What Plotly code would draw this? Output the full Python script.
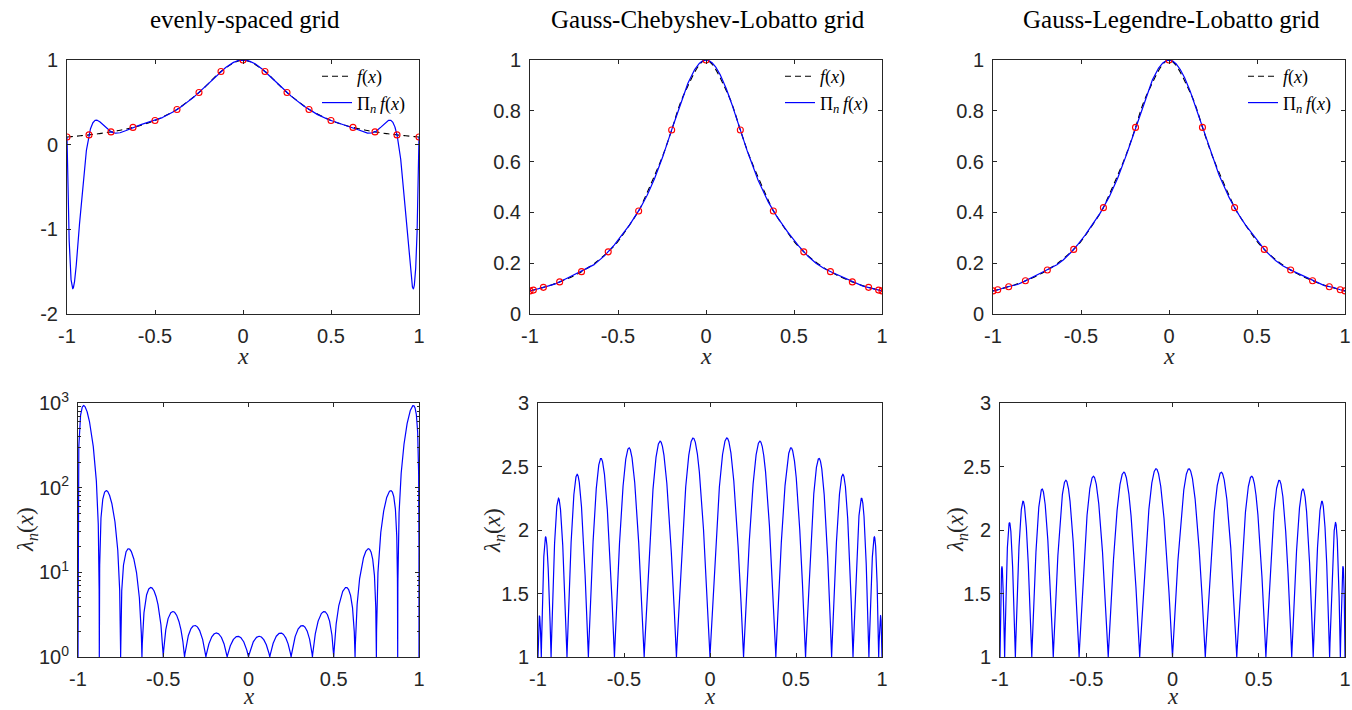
import numpy as np
import plotly.graph_objects as go

# ---------------- data ----------------
TITLES = ["evenly-spaced grid", "Gauss-Chebyshev-Lobatto grid", "Gauss-Legendre-Lobatto grid"]

# interpolation nodes and the sampled values f(x_j) (red circles)
X_EVEN = [-1.0, -0.875, -0.75, -0.625, -0.5, -0.375, -0.25, -0.125, 0.0,
          0.125, 0.25, 0.375, 0.5, 0.625, 0.75, 0.875, 1.0]
F_EVEN = [0.090909, 0.115523, 0.150943, 0.203822, 0.285714, 0.415584, 0.615385, 0.864865, 1.0,
          0.864865, 0.615385, 0.415584, 0.285714, 0.203822, 0.150943, 0.115523, 0.090909]

X_CHEB = [-1.0, -0.980785, -0.92388, -0.83147, -0.707107, -0.55557, -0.382683, -0.19509, 0.0,
          0.19509, 0.382683, 0.55557, 0.707107, 0.83147, 0.92388, 0.980785, 1.0]
F_CHEB = [0.090909, 0.094167, 0.104871, 0.126368, 0.166667, 0.244703, 0.405767, 0.724322, 1.0,
          0.724322, 0.405767, 0.244703, 0.166667, 0.126368, 0.104871, 0.094167, 0.090909]

X_GLL = [-1.0, -0.97313, -0.91088, -0.8157, -0.6912, -0.5414, -0.3726, -0.1901, 0.0,
         0.1901, 0.3726, 0.5414, 0.6912, 0.8157, 0.91088, 0.97313, 1.0]
F_GLL = [0.090909, 0.095512, 0.107561, 0.130656, 0.173083, 0.254379, 0.418705, 0.734551, 1.0,
         0.734551, 0.418705, 0.254379, 0.173083, 0.130656, 0.107561, 0.095512, 0.090909]

X_TICKS = [-1, -0.5, 0, 0.5, 1]
X_TICKTEXT = ["-1", "-0.5", "0", "0.5", "1"]
TOP_YTICKS = [[-2, -1, 0, 1], [0, 0.2, 0.4, 0.6, 0.8, 1], [0, 0.2, 0.4, 0.6, 0.8, 1]]
TOP_YTICKTEXT = [["-2", "-1", "0", "1"], ["0", "0.2", "0.4", "0.6", "0.8", "1"],
                 ["0", "0.2", "0.4", "0.6", "0.8", "1"]]
TOP_YRANGE = [[-2, 1], [0, 1], [0, 1]]
LOG_YTICKS = [1, 10, 100, 1000]
LOG_YTICKTEXT = ["10<sup>0</sup>", "10<sup>1</sup>", "10<sup>2</sup>", "10<sup>3</sup>"]
LIN_YTICKS = [1, 1.5, 2, 2.5, 3]
LIN_YTICKTEXT = ["1", "1.5", "2", "2.5", "3"]

GRIDS = [(X_EVEN, F_EVEN), (X_CHEB, F_CHEB), (X_GLL, F_GLL)]


# ---------------- interpolant / Lebesgue function from the nodes ----------------
def lagrange_from_nodes(xn, fn, xs):
    xn = np.asarray(xn, float)
    fn = np.asarray(fn, float)
    n = len(xn)
    w = np.array([1.0 / np.prod([xn[j] - xn[k] for k in range(n) if k != j]) for j in range(n)])
    d = xs[:, None] - xn[None, :]
    hit = np.abs(d) < 1e-13
    d[hit] = 1.0
    c = w[None, :] / d
    p = (c @ fn) / c.sum(axis=1)
    lam = np.abs(c).sum(axis=1) / np.abs(c.sum(axis=1))
    rows, cols = np.nonzero(hit)
    p[rows] = fn[cols]
    lam[rows] = 1.0
    return p, lam


# f(x) drawn through all the sampled points of the three grids
allx = np.concatenate([X_EVEN, X_CHEB, X_GLL])
allf = np.concatenate([F_EVEN, F_CHEB, F_GLL])
fx_u, idx = np.unique(np.round(allx, 6), return_index=True)
ff_u = allf[idx]

AX = "#262626"
W, H = 1352, 710

# target positions in screenshot pixels
TOP_X = [(67, 419), (530, 882), (993, 1345)]
BOT_X = [(78, 419), (538, 882), (1000, 1345)]
TOP_Y = (60, 314)
BOT_Y = (403, 657)


def px(x):
    return x / W


def py(y):
    return 1 - y / H


def xd(a, b):
    return [px(a), px(b)]


def yd(top, bottom):
    return [py(bottom), py(top)]


fig = go.Figure()
layout = dict(width=W, height=H, autosize=False, margin=dict(l=0, r=0, t=0, b=0, pad=0),
              paper_bgcolor="white", plot_bgcolor="white", showlegend=True)

tickfont = dict(family="Liberation Sans", size=20, color=AX)
axis_common = dict(showline=True, linecolor=AX, linewidth=1, mirror="allticks",
                   ticks="inside", ticklen=4, tickcolor=AX, tickwidth=1,
                   showgrid=False, zeroline=False, tickfont=tickfont,
                   ticklabelstandoff=4, automargin=False)

annotations = []
legend_names = ["legend", "legend2", "legend3"]

for i, (xn, fn) in enumerate(GRIDS):
    xs = np.union1d(np.linspace(-1, 1, 8001), np.asarray(xn))
    p, lam = lagrange_from_nodes(xn, fn, xs)

    top_ax = i + 1
    bot_ax = i + 4
    xa_t = "x" if top_ax == 1 else f"x{top_ax}"
    ya_t = "y" if top_ax == 1 else f"y{top_ax}"
    xa_b = f"x{bot_ax}"
    ya_b = f"y{bot_ax}"
    lg = legend_names[i]

    fig.add_trace(go.Scatter(x=fx_u, y=ff_u, mode="lines",
                             line=dict(color="black", width=1.1, dash="6px,4px", shape="spline"),
                             name="<i>f</i>(<i>x</i>)", xaxis=xa_t, yaxis=ya_t, legend=lg, legendrank=1))
    fig.add_trace(go.Scatter(x=xs, y=p, mode="lines", line=dict(color="#0000ff", width=1.2),
                             name="Π<sub><i>n</i></sub>\u2009<i>f</i>(<i>x</i>)", xaxis=xa_t, yaxis=ya_t,
                             legend=lg, legendrank=2))
    fig.add_trace(go.Scatter(x=xn, y=fn, mode="markers",
                             marker=dict(symbol="circle-open", size=6, color="red",
                                         line=dict(width=1.1, color="red")),
                             showlegend=False, xaxis=xa_t, yaxis=ya_t))
    fig.add_trace(go.Scatter(x=xs, y=lam, mode="lines", line=dict(color="#0000ff", width=1.2),
                             showlegend=False, xaxis=xa_b, yaxis=ya_b))

    # axes
    kx_t = "xaxis" if top_ax == 1 else f"xaxis{top_ax}"
    ky_t = "yaxis" if top_ax == 1 else f"yaxis{top_ax}"
    layout[kx_t] = dict(axis_common, domain=xd(*TOP_X[i]), range=[-1, 1], tickvals=X_TICKS,
                        ticktext=X_TICKTEXT, anchor=ya_t)
    layout[ky_t] = dict(axis_common, domain=yd(*TOP_Y), range=TOP_YRANGE[i], tickvals=TOP_YTICKS[i],
                        ticktext=TOP_YTICKTEXT[i], anchor=xa_t)
    layout[f"xaxis{bot_ax}"] = dict(axis_common, domain=xd(*BOT_X[i]), range=[-1, 1], tickvals=X_TICKS,
                                    ticktext=X_TICKTEXT, anchor=ya_b)
    if i == 0:
        layout[f"yaxis{bot_ax}"] = dict(axis_common, domain=yd(*BOT_Y), type="log", range=[0, 3],
                                        tickvals=LOG_YTICKS, ticktext=LOG_YTICKTEXT, anchor=xa_b,
                                        minor=dict(ticks="inside", ticklen=2.5, tickcolor=AX,
                                                   tickvals=[m * 10 ** e for e in range(3) for m in range(2, 10)],
                                                   showgrid=False))
    else:
        layout[f"yaxis{bot_ax}"] = dict(axis_common, domain=yd(*BOT_Y), range=[1, 3],
                                        tickvals=LIN_YTICKS, ticktext=LIN_YTICKTEXT, anchor=xa_b)

    # legend
    layout[lg] = dict(x=px(TOP_X[i][1] - 9), y=py(58), xanchor="right", yanchor="top",
                      bgcolor="rgba(255,255,255,0)", borderwidth=0, itemwidth=30, tracegroupgap=0,
                      font=dict(family="Liberation Serif", size=18, color="black"))

    # title
    cxp = (TOP_X[i][0] + TOP_X[i][1]) / 2 + 2
    annotations.append(dict(text=TITLES[i], x=px(cxp), y=py(5), xref="paper", yref="paper",
                            xanchor="center", yanchor="top", showarrow=False, borderpad=0,
                            font=dict(family="Liberation Serif", size=25, color="black")))
    # x labels
    cxt = (TOP_X[i][0] + TOP_X[i][1]) / 2
    annotations.append(dict(text="<i>x</i>", x=px(cxt), y=py(356), xref="paper", yref="paper",
                            xanchor="center", yanchor="middle", showarrow=False,
                            font=dict(family="Liberation Serif", size=24, color=AX)))
    cxb = (BOT_X[i][0] + BOT_X[i][1]) / 2
    annotations.append(dict(text="<i>x</i>", x=px(cxb), y=0.0, xref="paper", yref="paper",
                            xanchor="center", yanchor="bottom", showarrow=False, borderpad=0,
                            font=dict(family="Liberation Serif", size=23, color=AX)))
    # y label bottom
    ylx = [27, 494, 957][i]
    annotations.append(dict(text="<i>λ</i><sub><i>n</i></sub>(<i>x</i>)", x=px(ylx), y=py(530),
                            xref="paper", yref="paper", xanchor="center", yanchor="middle",
                            showarrow=False, textangle=-90,
                            font=dict(family="Liberation Serif", size=23, color=AX)))

layout["annotations"] = annotations
fig.update_layout(**layout)
fig.write_html("out.html", config=dict(displayModeBar=False),
               post_script="document.body.style.margin='0';document.body.style.overflow='hidden';")
